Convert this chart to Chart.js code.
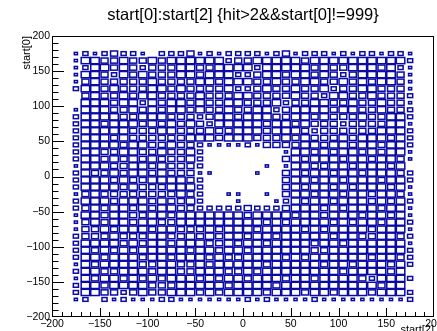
<!DOCTYPE html>
<html>
<head>
<meta charset="utf-8">
<script src="https://cdn.jsdelivr.net/npm/chart.js@4/dist/chart.umd.min.js"></script>
<style>
  html, body { margin: 0; padding: 0; background: #fff; }
  canvas { display: block; }
</style>
</head>
<body>
<canvas id="c" width="437" height="331"></canvas>
<script>
// Bin centres of the 2D histogram (10-unit bins)
const xBins = [-175,-165,-155,-145,-135,-125,-115,-105,-95,-85,-75,-65,-55,-45,-35,-25,-15,-5,
               5,15,25,35,45,55,65,75,85,95,105,115,125,135,145,155,165,175];
const yBins = [175,165,155,145,135,125,115,105,95,85,75,65,55,45,35,25,15,5,
               -5,-15,-25,-35,-45,-55,-65,-75,-85,-95,-105,-115,-125,-135,-145,-155,-165,-175];

// Bin contents, one row per yBins entry (top to bottom), one column per xBins entry
const counts = [
  [3,8,3,8,15,8,8,3,0,8,8,8,15,3,8,3,8,8,8,8,3,8,15,3,8,8,8,3,8,3,8,8,3,8,8,3],
  [3,22,22,15,15,22,15,15,22,15,22,22,22,22,22,22,8,15,15,22,22,22,22,22,15,22,22,22,22,22,22,22,22,22,22,8],
  [3,8,22,22,15,22,15,8,15,15,15,22,22,15,15,22,22,22,22,8,22,22,22,22,22,15,22,15,15,22,22,22,15,22,8,3],
  [3,22,22,15,8,22,15,22,15,15,15,22,22,15,22,22,22,8,8,15,22,22,15,22,22,15,22,15,8,15,22,22,22,22,15,3],
  [3,15,22,15,15,15,15,15,22,15,15,15,15,22,22,15,22,22,22,15,15,22,15,15,22,22,15,15,22,15,22,15,22,22,15,3],
  [8,22,22,15,22,15,15,15,22,22,15,22,15,15,15,15,22,8,8,15,22,15,15,22,15,15,22,8,15,15,22,22,15,15,15,3],
  [0,15,22,15,15,22,15,22,22,15,15,15,15,22,15,15,15,22,22,15,15,15,15,22,15,15,8,22,22,15,15,22,15,15,15,8],
  [0,22,22,22,15,22,22,8,22,15,22,22,15,22,15,15,22,22,15,15,15,22,8,15,15,22,22,15,15,22,15,15,22,15,15,3],
  [3,22,22,22,15,15,22,15,22,15,22,22,15,22,15,15,22,15,15,22,22,8,15,22,22,22,22,15,22,22,15,15,22,15,15,8],
  [8,22,22,22,22,15,15,22,22,22,15,15,15,8,15,22,22,15,22,22,22,15,15,22,22,15,22,15,15,15,22,15,15,22,22,8],
  [8,22,22,15,22,22,22,15,22,15,22,15,22,15,8,22,22,22,22,22,15,22,22,15,22,15,15,15,8,15,15,15,15,22,22,3],
  [8,22,22,22,22,22,15,15,15,22,22,15,15,15,22,15,15,22,22,22,15,22,22,22,15,8,15,15,15,15,15,15,22,22,22,8],
  [8,22,22,22,15,22,15,15,15,15,15,15,22,22,22,15,22,22,22,15,15,15,22,15,22,15,15,15,22,15,22,22,22,15,22,8],
  [8,22,22,22,22,15,22,22,15,15,22,15,15,8,3,3,3,3,8,3,15,15,15,15,22,22,15,22,22,15,22,22,15,22,22,8],
  [8,22,22,15,15,22,22,15,15,22,15,15,22,8,0,0,0,0,0,0,0,0,3,22,22,15,22,15,22,22,15,22,15,22,22,3],
  [8,22,22,15,22,15,22,15,22,15,15,15,22,8,0,0,0,0,0,0,0,0,15,22,15,22,22,22,15,22,22,15,22,22,15,3],
  [3,22,22,22,15,15,22,22,15,22,15,15,15,8,0,0,0,0,0,0,3,0,3,22,22,15,15,22,22,15,22,22,22,15,22,0],
  [8,22,15,15,22,15,22,22,15,22,15,15,15,3,3,0,0,0,0,3,0,0,15,22,15,22,22,15,22,22,15,22,22,22,15,8],
  [8,22,22,22,15,22,15,15,22,22,22,22,15,8,0,0,0,0,0,0,0,0,15,22,22,15,22,22,15,22,22,22,15,22,22,8],
  [8,22,22,22,22,15,22,15,15,15,22,22,22,8,0,0,0,0,0,0,0,0,15,22,15,22,22,15,22,15,22,22,22,15,22,3],
  [3,15,22,15,15,15,15,15,15,15,15,22,15,8,0,0,3,3,0,0,3,0,15,22,22,15,22,22,15,22,22,15,22,22,15,3],
  [8,22,22,22,15,22,22,22,15,22,15,15,22,8,0,0,0,3,0,0,0,3,8,22,15,22,22,15,22,22,22,15,22,15,22,8],
  [8,15,22,15,22,22,15,22,15,22,22,15,15,8,8,8,8,8,15,8,8,8,15,22,22,22,15,22,15,22,22,22,15,22,22,3],
  [3,22,22,15,22,22,15,15,22,22,15,22,22,22,22,22,22,22,15,22,22,22,22,15,22,22,15,22,22,22,15,22,22,15,22,3],
  [3,15,22,15,22,22,15,22,22,15,15,22,22,22,22,22,22,22,22,22,15,22,15,22,22,22,22,15,22,15,22,22,15,22,22,8],
  [3,15,15,22,15,22,22,22,15,22,22,15,15,15,22,15,22,22,22,15,22,22,22,22,15,22,15,22,22,22,22,15,22,22,22,3],
  [8,15,15,15,22,15,15,15,22,22,15,15,22,15,22,15,22,22,15,22,22,15,22,22,22,22,22,15,22,22,15,15,22,22,15,8],
  [8,22,22,22,22,15,22,15,22,22,15,22,22,22,15,15,22,15,22,22,15,22,22,22,22,15,22,22,15,22,22,22,22,22,22,3],
  [8,22,15,22,15,22,15,22,22,22,22,22,15,22,22,15,22,22,15,22,22,22,22,22,22,15,15,22,22,22,22,22,22,22,22,8],
  [8,22,22,15,22,22,22,15,22,22,15,22,22,22,15,22,15,15,22,22,22,22,15,22,15,22,22,22,22,22,22,15,22,22,15,8],
  [3,22,15,22,22,22,22,15,15,22,22,15,15,22,15,22,22,22,22,22,15,22,22,22,22,22,15,22,22,15,22,22,22,15,22,8],
  [8,22,22,15,15,22,22,22,15,22,22,15,15,22,22,22,15,15,22,15,22,22,22,22,22,22,22,22,15,22,22,22,22,15,22,0],
  [3,22,15,22,22,15,22,15,22,15,22,22,22,15,22,15,22,22,15,22,22,22,15,22,22,15,22,22,22,22,15,8,22,22,22,8],
  [8,22,22,15,22,22,22,22,15,15,15,22,22,22,22,22,15,22,22,22,22,15,22,22,22,22,22,22,22,22,22,22,15,22,22,0],
  [8,22,22,15,15,8,15,22,15,15,22,22,22,15,22,15,22,22,22,22,15,22,22,22,15,22,22,15,22,22,22,15,22,22,22,8],
  [3,8,0,8,3,8,3,3,3,8,8,3,3,3,3,3,3,3,8,3,8,3,3,3,3,8,3,3,3,3,3,3,3,3,3,8]
];

// Axis tick labels (both axes share the same range)
const xTickValues = [-200,-150,-100,-50,0,50,100,150,200];
const yTickValues = [-200,-150,-100,-50,0,50,100,150,200];

const titleText = 'start[0]:start[2] {hit>2&&start[0]!=999}';
const xTitleText = 'start[2]';
const yTitleText = 'start[0]';

// One point per non-empty bin, carrying the bin content
const points = [];
yBins.forEach((yc, r) => {
  xBins.forEach((xc, c) => {
    const v = counts[r][c];
    if (v > 0) points.push({ x: xc, y: yc, v: v });
  });
});

const FONT = '"Liberation Sans", Arial, Helvetica, sans-serif';
const minusSign = v => String(v).replace('-', '\u2212');

// Draws each bin as an open box whose area follows its content
const binBoxes = {
  id: 'binBoxes',
  afterDatasetsDraw(chart, args, opts) {
    const { ctx, chartArea: a, scales: { x, y } } = chart;
    const meta = chart.getDatasetMeta(0);
    const data = chart.data.datasets[0].data;
    const half = opts.binWidth / 2;
    ctx.save();
    ctx.beginPath();
    ctx.rect(a.left, a.top, a.right - a.left, a.bottom - a.top);
    ctx.clip();
    ctx.strokeStyle = opts.color;
    ctx.lineWidth = opts.lineWidth;
    meta.data.forEach((el, i) => {
      const d = data[i];
      const f = Math.sqrt(d.v / opts.zMax);
      const w = Math.abs(x.getPixelForValue(d.x + half) - x.getPixelForValue(d.x - half)) * f;
      const h = Math.abs(y.getPixelForValue(d.y + half) - y.getPixelForValue(d.y - half)) * f;
      ctx.strokeRect(el.x - w / 2, el.y - h / 2, w, h);
    });
    ctx.restore();
  }
};

// Frame with inward major/minor tick marks
const frameTicks = {
  id: 'frameTicks',
  afterDraw(chart) {
    const { ctx, chartArea: a, scales: { x, y } } = chart;
    ctx.save();
    ctx.strokeStyle = '#000';
    ctx.lineWidth = 1;
    const L = Math.round(a.left) + 0.5, R = Math.round(a.right) - 0.5;
    const T = Math.round(a.top) + 0.5, B = Math.round(a.bottom) - 0.5;
    ctx.strokeRect(L, T, R - L, B - T);
    ctx.beginPath();
    for (let v = -190; v < 200; v += 10) {
      const major = v % 50 === 0;
      const px = Math.round(x.getPixelForValue(v)) + 0.5;
      ctx.moveTo(px, B);
      ctx.lineTo(px, B - (major ? 8.5 : 4.5));
      const py = Math.round(y.getPixelForValue(v)) + 0.5;
      ctx.moveTo(L, py);
      ctx.lineTo(L + (major ? 11.5 : 6), py);
    }
    ctx.stroke();
    ctx.restore();
  }
};

new Chart(document.getElementById('c'), {
  type: 'scatter',
  data: {
    datasets: [{
      data: points,
      pointRadius: 0,
      pointHoverRadius: 0,
      pointHitRadius: 0
    }]
  },
  options: {
    responsive: false,
    animation: false,
    devicePixelRatio: 1,
    events: [],
    layout: { padding: { left: 0, right: 3, top: 0, bottom: 0 } },
    plugins: {
      legend: { display: false },
      tooltip: { enabled: false },
      title: {
        display: true,
        text: titleText,
        fullSize: false,
        color: '#000',
        font: { family: FONT, size: 16.5, weight: 'normal', lineHeight: 1.2 },
        padding: { top: 6, bottom: 10.2 }
      },
      binBoxes: { binWidth: xBins[1] - xBins[0], zMax: 28, color: 'rgb(10,10,165)', lineWidth: 1.5 }
    },
    scales: {
      x: {
        type: 'linear',
        min: xTickValues[0],
        max: xTickValues[xTickValues.length - 1],
        afterBuildTicks: s => { s.ticks = xTickValues.map(v => ({ value: v })); },
        grid: { display: false, drawTicks: false },
        border: { display: false },
        ticks: {
          autoSkip: false, maxRotation: 0, minRotation: 0, padding: 0.5,
          color: '#000', font: { family: FONT, size: 10.5 },
          callback: minusSign
        },
        title: {
          display: true, text: xTitleText, align: 'end', color: '#000',
          font: { family: FONT, size: 11, lineHeight: 1.2 },
          padding: { top: 0, bottom: -5.6 }
        },
        afterFit: s => { s.height = 14; s.paddingLeft = 0; s.paddingRight = 0; }
      },
      y: {
        type: 'linear',
        min: yTickValues[0],
        max: yTickValues[yTickValues.length - 1],
        afterBuildTicks: s => { s.ticks = yTickValues.map(v => ({ value: v })); },
        grid: { display: false, drawTicks: false },
        border: { display: false },
        ticks: {
          autoSkip: false, padding: 2,
          color: '#000', font: { family: FONT, size: 10.5 },
          callback: minusSign
        },
        title: {
          display: true, text: yTitleText, align: 'end', color: '#000',
          font: { family: FONT, size: 11, lineHeight: 1.2 },
          padding: { top: 20, bottom: 0 }
        },
        afterFit: s => { s.width = 52; s.paddingTop = 0; s.paddingBottom = 0; }
      }
    }
  },
  plugins: [binBoxes, frameTicks]
});
</script>
</body>
</html>
